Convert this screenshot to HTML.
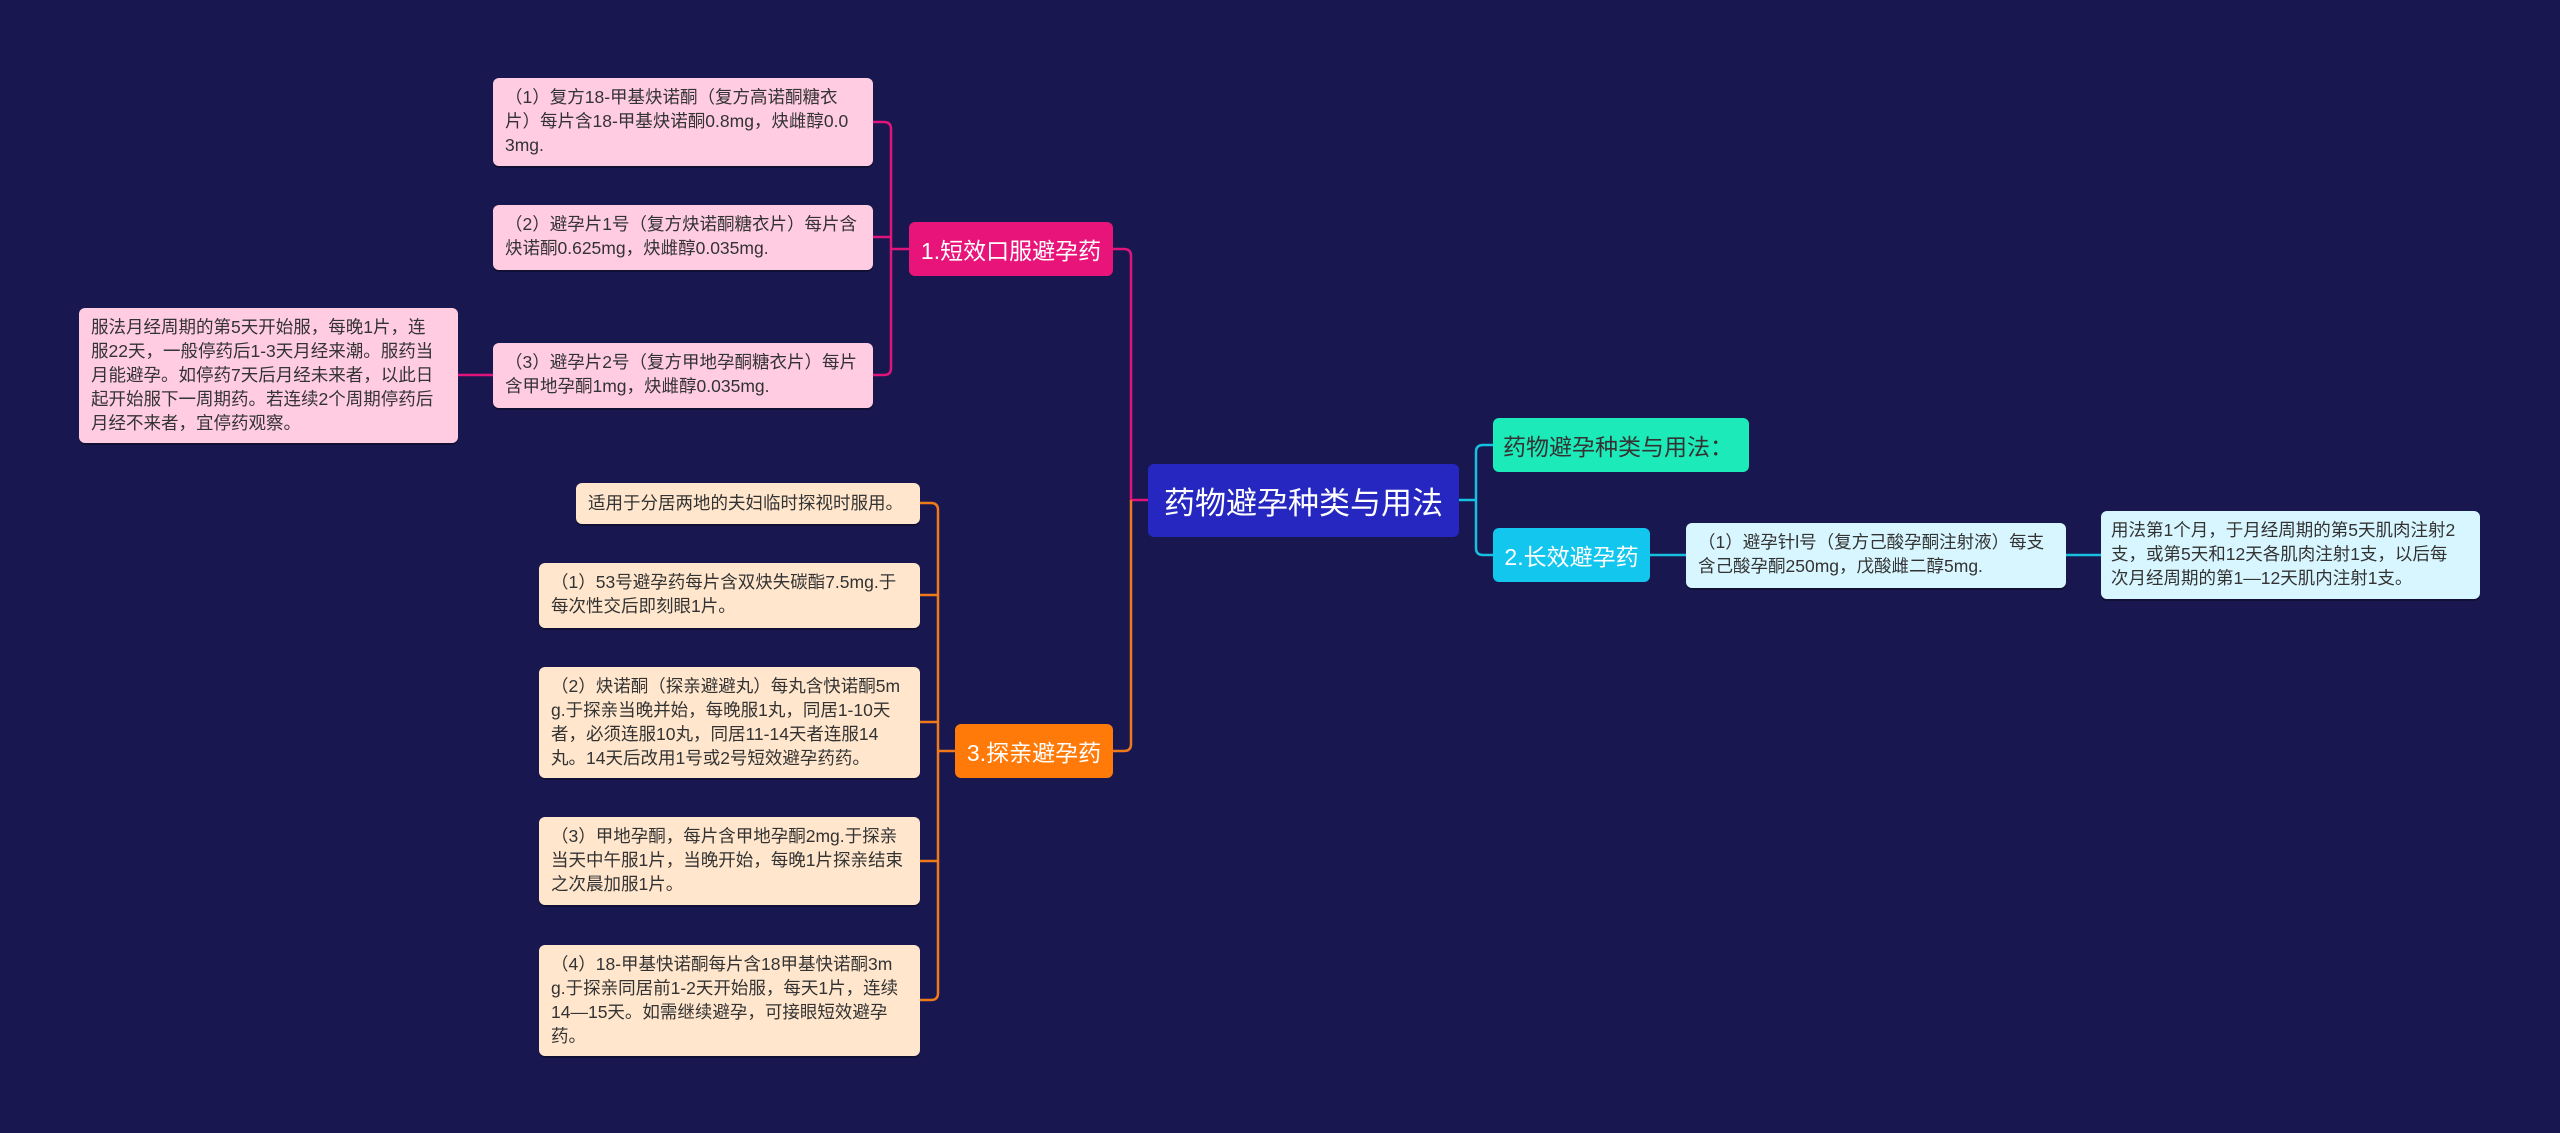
<!DOCTYPE html>
<html><head><meta charset="utf-8"><style>
body{margin:0;width:2560px;height:1133px;background:#18174f;position:relative;overflow:hidden;font-family:"Liberation Sans","Noto Sans CJK SC",sans-serif;}
.b{position:absolute;box-sizing:border-box;border-radius:6px;font-size:17.5px;line-height:24px;color:#333;padding:7px 16px 6px 12px;box-shadow:0 2px 0 rgba(0,0,0,.3);word-break:break-all;}
.p{background:#ffcce2;}
.o{background:#ffe6cc;}
.c{background:#d8f6ff;}
.n{position:absolute;box-sizing:border-box;border-radius:6px;display:flex;align-items:center;justify-content:center;color:#fff;font-size:23px;}
svg{position:absolute;left:0;top:0;}
</style></head><body>
<svg width="2560" height="1133" fill="none" stroke-width="2.5" stroke-linejoin="round">
<path d="M873 122 H884 Q891 122 891 129 V368 Q891 375 884 375 H873 M873 237 H891 M891 249 H909 M458 375 H493" stroke="#e0147a"/>
<path d="M1113 249 H1124 Q1131 249 1131 256 V500 H1148" stroke="#e0147a"/>
<path d="M1113 751 H1124 Q1131 751 1131 744 V500" stroke="#f07a1a"/>
<path d="M920 503 H931 Q938 503 938 510 V993 Q938 1000 931 1000 H920 M920 595 H938 M920 722 H938 M920 861 H938 M938 751 H955" stroke="#f07a1a"/>
<path d="M1459 500 H1476 M1493 445 H1483 Q1476 445 1476 452 V548 Q1476 555 1483 555 H1493 M1650 555 H1686 M2066 555 H2101" stroke="#18c0e0"/>
</svg>
<div class="b p" style="left:493px;top:78px;width:380px;height:88px;">（1）复方18-甲基炔诺酮（复方高诺酮糖衣片）每片含18-甲基炔诺酮0.8mg，炔雌醇0.03mg.</div>
<div class="b p" style="left:493px;top:205px;width:380px;height:65px;">（2）避孕片1号（复方炔诺酮糖衣片）每片含炔诺酮0.625mg，炔雌醇0.035mg.</div>
<div class="b p" style="left:493px;top:343px;width:380px;height:65px;">（3）避孕片2号（复方甲地孕酮糖衣片）每片含甲地孕酮1mg，炔雌醇0.035mg.</div>
<div class="b p" style="left:79px;top:308px;width:379px;height:135px;">服法月经周期的第5天开始服，每晚1片，连服22天，一般停药后1-3天月经来潮。服药当月能避孕。如停药7天后月经未来者，以此日起开始服下一周期药。若连续2个周期停药后月经不来者，宜停药观察。</div>
<div class="n" style="left:909px;top:222px;width:204px;height:54px;background:#e8147a;">1.短效口服避孕药</div>
<div class="n" style="left:1148px;top:464px;width:311px;height:73px;background:#2626c0;font-size:31px;">药物避孕种类与用法</div>
<div class="b o" style="left:576px;top:483px;width:344px;height:41px;padding-top:8px;">适用于分居两地的夫妇临时探视时服用。</div>
<div class="b o" style="left:539px;top:563px;width:381px;height:65px;">（1）53号避孕药每片含双炔失碳酯7.5mg.于每次性交后即刻眼1片。</div>
<div class="b o" style="left:539px;top:667px;width:381px;height:111px;">（2）炔诺酮（探亲避避丸）每丸含快诺酮5mg.于探亲当晚并始，每晚服1丸，同居1-10天者，必须连服10丸，同居11-14天者连服14丸。14天后改用1号或2号短效避孕药药。</div>
<div class="b o" style="left:539px;top:817px;width:381px;height:88px;">（3）甲地孕酮，每片含甲地孕酮2mg.于探亲当天中午服1片，当晚开始，每晚1片探亲结束之次晨加服1片。</div>
<div class="b o" style="left:539px;top:945px;width:381px;height:111px;">（4）18-甲基快诺酮每片含18甲基快诺酮3mg.于探亲同居前1-2天开始服，每天1片，连续14—15天。如需继续避孕，可接眼短效避孕药。</div>
<div class="n" style="left:955px;top:724px;width:158px;height:54px;background:#ff7a08;">3.探亲避孕药</div>
<div class="n" style="left:1493px;top:418px;width:256px;height:54px;background:#1ceab8;color:#333;justify-content:flex-start;padding-left:10px;">药物避孕种类与用法：</div>
<div class="n" style="left:1493px;top:528px;width:157px;height:54px;background:#12c6ee;">2.长效避孕药</div>
<div class="b c" style="left:1686px;top:523px;width:380px;height:65px;">（1）避孕针l号（复方己酸孕酮注射液）每支含己酸孕酮250mg，戊酸雌二醇5mg.</div>
<div class="b c" style="left:2101px;top:511px;width:379px;height:88px;padding-left:10px;">用法第1个月，于月经周期的第5天肌肉注射2支，或第5天和12天各肌肉注射1支，以后每次月经周期的第1—12天肌内注射1支。</div>
</body></html>
